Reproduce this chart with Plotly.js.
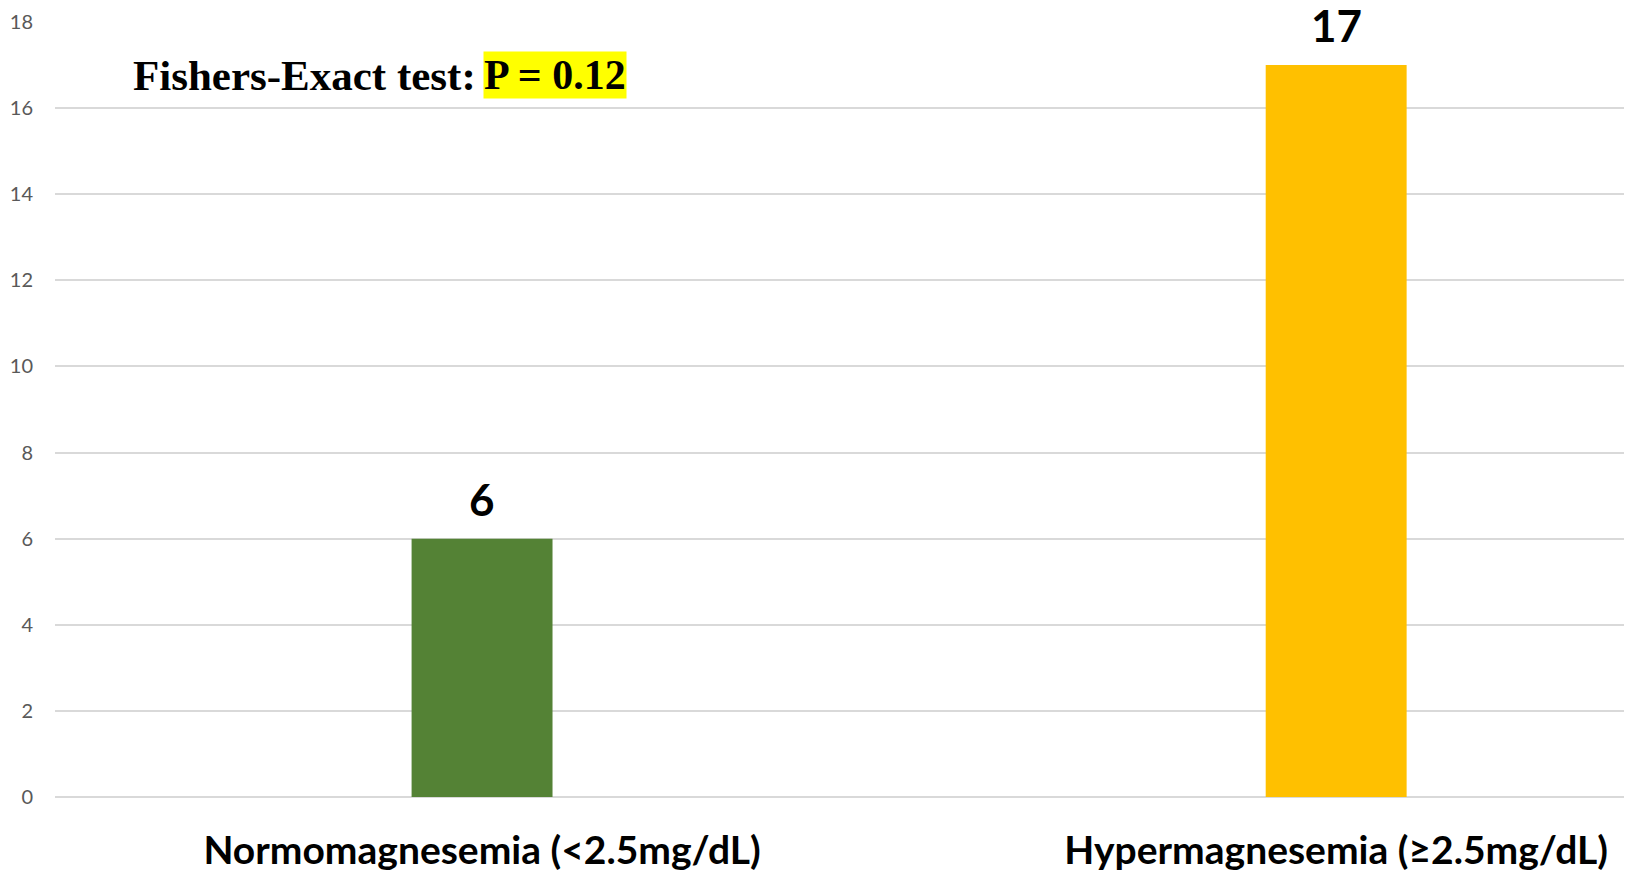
<!DOCTYPE html>
<html>
<head>
<meta charset="utf-8">
<script src="https://cdn.plot.ly/plotly-3.0.1.min.js"></script>
<style>html,body{margin:0;padding:0;background:#fff;}#chart{width:1627px;height:874px;}</style>
</head>
<body>
<div id="chart"></div>
<script>
const categories = ["Normomagnesemia (<2.5mg/dL)", "Hypermagnesemia (≥2.5mg/dL)"];
const values = [6, 17];
const barColors = ["#548235", "#FFC000"];
const yTickVals = [0, 2, 4, 6, 8, 10, 12, 14, 16, 18];
const testLabel = "Fishers-Exact test:";
const pLabel = "P = 0.12";

const trace = {
  type: "bar",
  x: categories,
  y: values,
  marker: {color: barColors},
  width: 0.165,
  hoverinfo: "skip",
  cliponaxis: false
};

const annotations = values.map((v, i) => ({
  x: categories[i], y: v, xref: "x", yref: "y",
  text: String(v), showarrow: false,
  yanchor: "bottom", yshift: 17, height: 42, valign: "middle",
  font: {family: "Lato, 'Open Sans', sans-serif", size: 44, color: "#000", weight: 700}
}));

annotations.push({
  xref: "paper", yref: "paper", x: 0.2695, y: 0.931,
  xanchor: "right", yanchor: "middle", showarrow: false,
  text: "<b>" + testLabel + "</b>",
  font: {family: "'Liberation Serif', 'Times New Roman', serif", size: 43, color: "#000"}
});
annotations.push({
  xref: "paper", yref: "paper", x: 0.2728, y: 0.931,
  xanchor: "left", yanchor: "middle", showarrow: false,
  text: "<b>" + pLabel + "</b>",
  bgcolor: "#FFFF00", borderpad: 0,
  font: {family: "'Liberation Serif', 'Times New Roman', serif", size: 42, color: "#000"}
});

const layout = {
  width: 1627, height: 874,
  margin: {l: 55, r: 3, t: 22, b: 77},
  paper_bgcolor: "#fff", plot_bgcolor: "#fff",
  showlegend: false,
  xaxis: {
    type: "category",
    range: [-0.5, 1.337],
    showgrid: false, zeroline: false, showline: false,
    ticks: "",
    ticklabelstandoff: 27,
    tickfont: {family: "Lato, 'Open Sans', sans-serif", size: 39, color: "#000", weight: 700}
  },
  yaxis: {
    range: [0, 18],
    tickvals: yTickVals,
    showgrid: true, gridcolor: "#D9D9D9", gridwidth: 2,
    zeroline: true, zerolinecolor: "#D9D9D9", zerolinewidth: 2,
    showline: false, ticks: "",
    ticklabelstandoff: 21,
    tickfont: {family: "Lato, 'Open Sans', sans-serif", size: 20, color: "#595959"}
  },
  annotations: annotations
};

Plotly.newPlot("chart", [trace], layout, {displayModeBar: false, staticPlot: true});
</script>
</body>
</html>
